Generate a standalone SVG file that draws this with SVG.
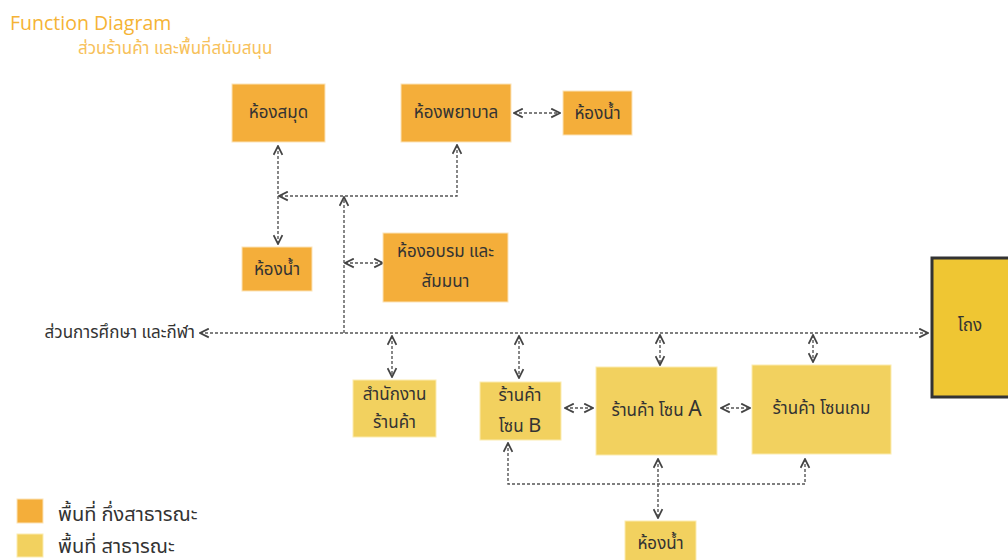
<svg xmlns="http://www.w3.org/2000/svg" width="1008" height="560" viewBox="0 0 1008 560">
  <style>
    .semi { fill: #F4AE3A; stroke: #FCE3B8; stroke-width: 1; }
    .pub { fill: #F2D15F; stroke: #FBEBB0; stroke-width: 1; }
    .hall { fill: #EFC633; stroke: #333333; stroke-width: 3; }
    .lbl { font-family: "Noto Sans Thai", Tahoma, "Noto Sans", "DejaVu Sans", sans-serif; font-size: 17px; fill: #333333; text-anchor: middle; }
    .title { font-family: "Open Sans", "Noto Sans", sans-serif; font-size: 19.5px; fill: #F5B335; }
    .sub { font-family: "Noto Sans Thai", Tahoma, "Noto Sans", sans-serif; font-size: 17px; fill: #F7C15A; }
    .side { font-family: "Noto Sans Thai", Tahoma, "Noto Sans", sans-serif; font-size: 17px; fill: #333333; text-anchor: end; }
    .leg { font-family: "Noto Sans Thai", Tahoma, "Noto Sans", sans-serif; font-size: 20px; fill: #333333; }
    .conn path { fill: none; stroke: #555555; stroke-width: 1.4; stroke-dasharray: 3 2; }
  </style>
  <defs>
    <marker id="arr" viewBox="0 0 10 10" refX="9" refY="5" markerWidth="11" markerHeight="11" markerUnits="userSpaceOnUse" orient="auto-start-reverse">
      <path d="M1,1 L9,5 L1,9" fill="none" stroke="#444444" stroke-width="1.6"/>
    </marker>
  </defs>

  <rect width="1008" height="560" fill="#FFFFFF"/>

  <text class="title" x="10" y="30">Function Diagram</text>
  <text class="sub" x="78" y="54">ส่วนร้านค้า และพื้นที่สนับสนุน</text>

  <g class="conn" id="connectors">
    <!-- main corridor -->
    <path d="M928,333 L200,333" marker-start="url(#arr)" marker-end="url(#arr)"/>
    <!-- spine up to library / infirmary -->
    <path d="M344,333 L344,197" marker-end="url(#arr)"/>
    <path d="M457,145 L457,196 L279,196" marker-start="url(#arr)" marker-end="url(#arr)"/>
    <path d="M278,146 L278,244" marker-start="url(#arr)" marker-end="url(#arr)"/>
    <path d="M345,263 L383,263" marker-start="url(#arr)" marker-end="url(#arr)"/>
    <path d="M514,113 L560,113" marker-start="url(#arr)" marker-end="url(#arr)"/>
    <!-- shop branches -->
    <path d="M392,336 L392,377" marker-start="url(#arr)" marker-end="url(#arr)"/>
    <path d="M519,336 L519,378" marker-start="url(#arr)" marker-end="url(#arr)"/>
    <path d="M660,335 L660,365" marker-start="url(#arr)" marker-end="url(#arr)"/>
    <path d="M813,335 L813,362" marker-start="url(#arr)" marker-end="url(#arr)"/>
    <path d="M565,408 L593,408" marker-start="url(#arr)" marker-end="url(#arr)"/>
    <path d="M721,408 L750,408" marker-start="url(#arr)" marker-end="url(#arr)"/>
    <!-- rear service path -->
    <path d="M508,443 L508,484 L805,484 L805,459" marker-start="url(#arr)" marker-end="url(#arr)"/>
    <path d="M658,459 L658,518" marker-start="url(#arr)" marker-end="url(#arr)"/>
  </g>

  <g id="library">
    <rect class="semi" x="232" y="84" width="93" height="58"/>
    <text class="lbl" x="278.5" y="118">ห้องสมุด</text>
  </g>
  <g id="infirmary">
    <rect class="semi" x="401" y="84" width="110" height="58"/>
    <text class="lbl" x="456" y="118">ห้องพยาบาล</text>
  </g>
  <g id="restroom-top">
    <rect class="semi" x="563" y="91" width="69" height="44"/>
    <text class="lbl" x="597.5" y="119">ห้องน้ำ</text>
  </g>
  <g id="restroom-left">
    <rect class="semi" x="242" y="247" width="70" height="44"/>
    <text class="lbl" x="277" y="275">ห้องน้ำ</text>
  </g>
  <g id="training">
    <rect class="semi" x="383" y="233" width="125" height="69"/>
    <text class="lbl" x="445.5" y="257">ห้องอบรม และ</text>
    <text class="lbl" x="445.5" y="287">สัมมนา</text>
  </g>

  <g id="shop-office">
    <rect class="pub" x="353" y="380" width="83" height="57"/>
    <text class="lbl" x="394.5" y="400">สำนักงาน</text>
    <text class="lbl" x="394.5" y="428">ร้านค้า</text>
  </g>
  <g id="shop-b">
    <rect class="pub" x="480" y="382" width="81" height="58"/>
    <text class="lbl" x="520" y="401">ร้านค้า</text>
    <text class="lbl" x="520" y="432">โซน <tspan font-size="20">B</tspan></text>
  </g>
  <g id="shop-a">
    <rect class="pub" x="596" y="367" width="121" height="88"/>
    <text class="lbl" x="656.5" y="416">ร้านค้า โซน <tspan font-size="21">A</tspan></text>
  </g>
  <g id="shop-game">
    <rect class="pub" x="752" y="365" width="139" height="89"/>
    <text class="lbl" x="821.5" y="414">ร้านค้า โซนเกม</text>
  </g>
  <g id="restroom-bottom">
    <rect class="pub" x="625" y="521" width="71" height="42"/>
    <text class="lbl" x="660.5" y="549">ห้องน้ำ</text>
  </g>
  <g id="hall">
    <rect class="hall" x="932" y="258" width="80" height="139"/>
    <text class="lbl" x="970" y="331">โถง</text>
  </g>

  <text class="side" x="195" y="338">ส่วนการศึกษา และกีฬา</text>

  <g id="legend">
    <rect class="semi" x="17" y="499" width="26" height="24"/>
    <text class="leg" x="58" y="521">พื้นที่ กึ่งสาธารณะ</text>
    <rect class="pub" x="17" y="534" width="26" height="23"/>
    <text class="leg" x="58" y="553">พื้นที่ สาธารณะ</text>
  </g>
</svg>
